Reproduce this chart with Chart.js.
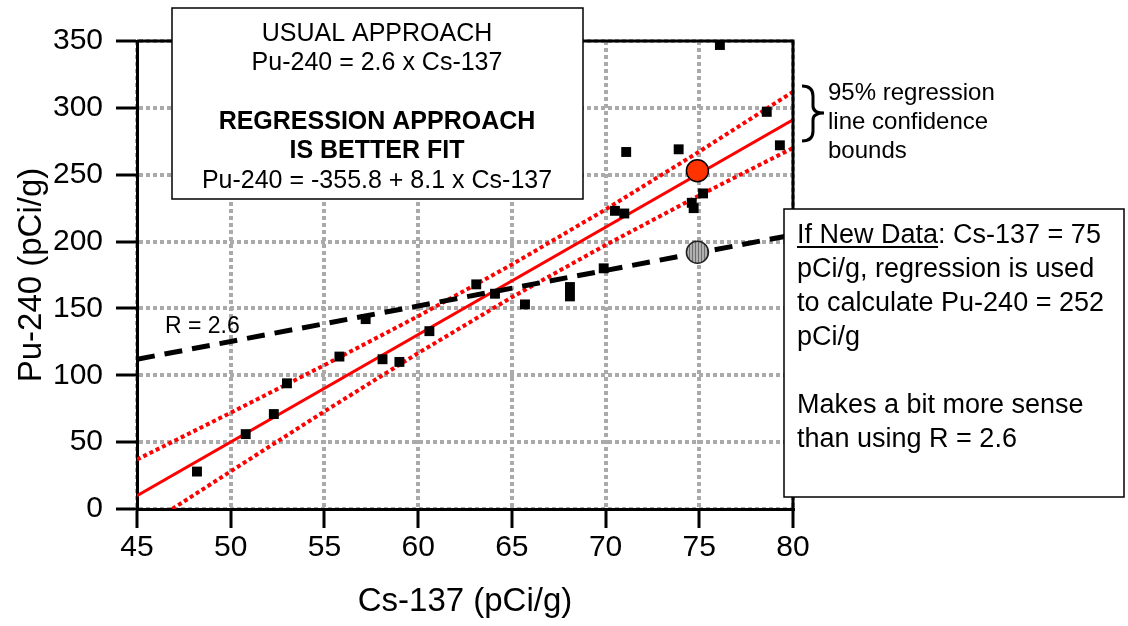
<!DOCTYPE html>
<html lang="en">
<head>
    <meta charset="UTF-8">
    <title>Pu-240 vs Cs-137</title>
    <script src="https://cdn.jsdelivr.net/npm/chart.js"></script>
    <style>
        body { margin: 0; background: #fff; }
        #wrap { width: 1128px; height: 626px; }
    </style>
</head>
<body>
    <div id="wrap"><canvas id="chart" width="1128" height="626"></canvas></div>

    <script>
        // measured samples (Cs-137, Pu-240)
        const cs137 = [48.2, 50.8, 52.3, 53.0, 55.8, 57.2, 58.1, 59.0, 60.6, 63.1, 64.1, 65.7,
                       68.1, 68.1, 69.9, 70.5, 71.0, 71.1, 73.9, 74.6, 74.7, 75.2, 76.1, 78.6, 79.3];
        const pu240 = [28, 56, 71, 94, 114, 142, 112, 110, 133, 168, 161, 153,
                       166, 159, 180, 223, 221, 267, 269, 229, 225, 236, 347, 297, 272];

        // usual approach line (R = 2.6)
        const ratioX = [45, 80];
        const ratioY = [112, 205];

        // regression line + 95% confidence bounds
        const fitX = [45, 80];
        const fitY = [10, 291];
        const boundX = [45, 50, 55, 60, 65, 70, 75, 80];
        const upperY = [37, 72, 107.6, 144.2, 182.8, 224, 267.3, 312];
        const lowerY = [-17, 28.2, 73, 116.6, 158.4, 197.4, 234.5, 270];

        // new data point at Cs-137 = 75
        const newX = [74.9];
        const newRegY = [253];
        const newRatioY = [192];

        const xTicks = [45, 50, 55, 60, 65, 70, 75, 80];
        const yTicks = [0, 50, 100, 150, 200, 250, 300, 350];

        const FONT = "'Liberation Sans', Arial, sans-serif";
        const pts = (xs, ys) => xs.map((x, i) => ({ x: x, y: ys[i] }));

        // hatched fill for the grey marker
        const pc = document.createElement('canvas');
        pc.width = 3; pc.height = 3;
        const pctx = pc.getContext('2d');
        pctx.fillStyle = '#b0b0b0'; pctx.fillRect(0, 0, 3, 3);
        pctx.fillStyle = '#6e6e6e'; pctx.fillRect(2, 0, 1, 3);
        const hatch = pctx.createPattern(pc, 'repeat');

        const notes = {
            id: 'notes',
            afterDraw(chart) {
                const ctx = chart.ctx;
                const a = chart.chartArea;
                ctx.save();

                // top and right frame
                ctx.strokeStyle = '#000';
                ctx.lineWidth = 3;
                ctx.beginPath();
                ctx.moveTo(a.left, a.top);
                ctx.lineTo(a.right, a.top);
                ctx.lineTo(a.right, a.bottom);
                ctx.stroke();

                // R = 2.6 label
                ctx.fillStyle = '#000';
                ctx.font = '23px ' + FONT;
                ctx.textAlign = 'left';
                ctx.fillText('R = 2.6', 165, 333);

                // top box
                ctx.fillStyle = '#fff';
                ctx.fillRect(172, 8, 411, 191);
                ctx.lineWidth = 1.5;
                ctx.strokeRect(172, 8, 411, 191);
                ctx.fillStyle = '#000';
                ctx.textAlign = 'center';
                ctx.font = '25px ' + FONT;
                ctx.fillText('USUAL APPROACH', 377, 41);
                ctx.fillText('Pu-240 = 2.6 x Cs-137', 377, 70);
                ctx.font = 'bold 25px ' + FONT;
                ctx.fillText('REGRESSION APPROACH', 377, 129);
                ctx.fillText('IS BETTER FIT', 377, 158);
                ctx.font = '25px ' + FONT;
                ctx.fillText('Pu-240 = -355.8 + 8.1 x Cs-137', 377, 188);

                // brace + confidence note
                ctx.lineWidth = 3;
                ctx.beginPath();
                ctx.moveTo(802, 86);
                ctx.quadraticCurveTo(813, 86, 813, 96);
                ctx.lineTo(813, 106);
                ctx.quadraticCurveTo(813, 113, 824, 113);
                ctx.quadraticCurveTo(813, 113, 813, 120);
                ctx.lineTo(813, 131);
                ctx.quadraticCurveTo(813, 141, 802, 141);
                ctx.stroke();
                ctx.textAlign = 'left';
                ctx.font = '24px ' + FONT;
                ctx.fillText('95% regression', 828, 100);
                ctx.fillText('line confidence', 828, 129);
                ctx.fillText('bounds', 828, 158);

                // right box
                ctx.fillStyle = '#fff';
                ctx.fillRect(784, 209, 340, 288);
                ctx.lineWidth = 1.5;
                ctx.strokeRect(784, 209, 340, 288);
                ctx.fillStyle = '#000';
                ctx.font = '27px ' + FONT;
                const lead = 'If New Data';
                const w = ctx.measureText(lead).width;
                ctx.fillText(lead, 797, 243);
                ctx.fillText(': Cs-137 = 75', 797 + w, 243);
                ctx.fillRect(797, 246, w, 2);
                ctx.fillText('pCi/g, regression is used', 797, 277);
                ctx.fillText('to calculate Pu-240 = 252', 797, 311);
                ctx.fillText('pCi/g', 797, 345);
                ctx.fillText('Makes a bit more sense', 797, 413);
                ctx.fillText('than using R = 2.6', 797, 447);

                ctx.restore();
            }
        };

        const axisCommon = {
            grid: {
                color: '#aaaaaa',
                lineWidth: 4,
                tickColor: '#000',
                tickWidth: 3
            },
            border: { color: '#000', width: 3, dash: [4, 3] },
            ticks: { color: '#000', font: { family: FONT, size: 30 } },
            title: { display: true, color: '#000', font: { family: FONT, size: 33 } }
        };

        new Chart(document.getElementById('chart'), {
            type: 'scatter',
            data: {
                datasets: [
                    {
                        data: pts(newX, newRegY), order: 0,
                        pointRadius: 11, pointBackgroundColor: '#ff3300',
                        pointBorderColor: '#000', pointBorderWidth: 1.5
                    },
                    {
                        data: pts(newX, newRatioY), order: 0,
                        pointRadius: 11, pointBackgroundColor: hatch,
                        pointBorderColor: '#222', pointBorderWidth: 1.5
                    },
                    {
                        data: pts(cs137, pu240), order: 1,
                        pointStyle: 'rect', pointRadius: 7,
                        pointBackgroundColor: '#000', pointBorderWidth: 0
                    },
                    {
                        data: pts(ratioX, ratioY), order: 2, showLine: true, clip: 0,
                        borderColor: '#000', borderWidth: 5, borderDash: [18, 10], pointRadius: 0
                    },
                    {
                        data: pts(fitX, fitY), order: 3, showLine: true, clip: 0,
                        borderColor: '#ff0000', borderWidth: 3, pointRadius: 0
                    },
                    {
                        data: pts(boundX, upperY), order: 3, showLine: true, clip: 0,
                        borderColor: '#ff0000', borderWidth: 4, borderDash: [4, 3], pointRadius: 0
                    },
                    {
                        data: pts(boundX, lowerY), order: 3, showLine: true, clip: 0,
                        borderColor: '#ff0000', borderWidth: 4, borderDash: [4, 3], pointRadius: 0
                    }
                ]
            },
            options: {
                responsive: false,
                animation: false,
                layout: { padding: { top: 41, right: 335, left: 0, bottom: 0 } },
                plugins: { legend: { display: false }, tooltip: { enabled: false } },
                scales: {
                    x: {
                        type: 'linear', min: 45, max: 80,
                        afterBuildTicks: s => { s.ticks = xTicks.map(v => ({ value: v })); },
                        afterFit: s => { s.height = 117; },
                        grid: { ...axisCommon.grid, tickLength: 19 },
                        border: axisCommon.border,
                        ticks: { ...axisCommon.ticks, padding: 2, maxRotation: 0 },
                        title: { ...axisCommon.title, text: 'Cs-137 (pCi/g)', padding: { top: 0, bottom: 4 } }
                    },
                    y: {
                        type: 'linear', min: 0, max: 350,
                        afterBuildTicks: s => { s.ticks = yTicks.map(v => ({ value: v })); },
                        afterFit: s => { s.width = 137; },
                        grid: { ...axisCommon.grid, tickLength: 21 },
                        border: axisCommon.border,
                        ticks: { ...axisCommon.ticks, padding: 13 },
                        title: { ...axisCommon.title, text: 'Pu-240 (pCi/g)', padding: { top: 12, bottom: 0 } }
                    }
                }
            },
            plugins: [notes]
        });
    </script>
</body>
</html>
